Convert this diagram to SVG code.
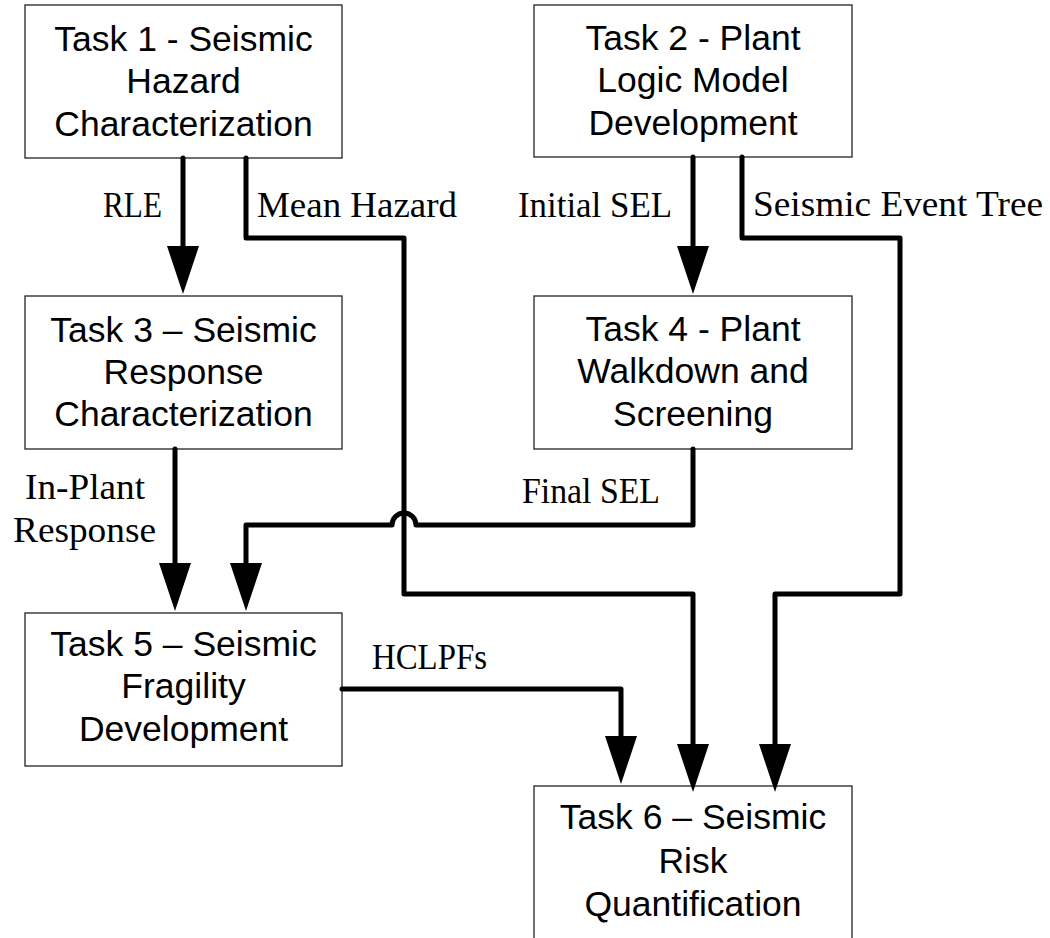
<svg xmlns="http://www.w3.org/2000/svg" width="1050" height="938" viewBox="0 0 1050 938">
<style>
.box{fill:#fff;stroke:#222;stroke-width:1.3}
.t{font-family:"Liberation Sans",Arial,sans-serif;font-size:35.5px;fill:#000;text-anchor:middle}
.lbl{font-family:"Liberation Serif","Times New Roman",serif;font-size:35px;fill:#000}
.c{fill:none;stroke:#000;stroke-width:5;stroke-linejoin:round;stroke-linecap:round}
</style>
<defs>
<marker id="ah" markerUnits="userSpaceOnUse" markerWidth="48" markerHeight="32" viewBox="0 0 48 32" refX="1" refY="16" orient="auto">
<path d="M0,0 L48,16 L0,32 Z" fill="#000"/>
</marker>
</defs>
<rect x="0" y="0" width="1050" height="938" fill="#fff"/>
<g id="task1">
<rect class="box" x="25" y="5" width="317" height="153"/>
<text class="t" x="183.5" y="51">Task 1 - Seismic</text>
<text class="t" x="183.5" y="93">Hazard</text>
<text class="t" x="183.5" y="136">Characterization</text>
</g>
<g id="task2">
<rect class="box" x="534" y="5" width="318" height="152"/>
<text class="t" x="693" y="50">Task 2 - Plant</text>
<text class="t" x="693" y="92">Logic Model</text>
<text class="t" x="693" y="135">Development</text>
</g>
<g id="task3">
<rect class="box" x="25" y="296" width="317" height="153"/>
<text class="t" x="183.5" y="342">Task 3 – Seismic</text>
<text class="t" x="183.5" y="384">Response</text>
<text class="t" x="183.5" y="426">Characterization</text>
</g>
<g id="task4">
<rect class="box" x="534" y="296" width="318" height="153"/>
<text class="t" x="693" y="341">Task 4 - Plant</text>
<text class="t" x="693" y="383">Walkdown and</text>
<text class="t" x="693" y="426">Screening</text>
</g>
<g id="task5">
<rect class="box" x="25" y="613" width="317" height="153"/>
<text class="t" x="183.5" y="656">Task 5 – Seismic</text>
<text class="t" x="183.5" y="698">Fragility</text>
<text class="t" x="183.5" y="741">Development</text>
</g>
<g id="task6">
<rect class="box" x="534" y="786" width="318" height="170"/>
<text class="t" x="693" y="829">Task 6 – Seismic</text>
<text class="t" x="693" y="873">Risk</text>
<text class="t" x="693" y="916">Quantification</text>
</g>
<g id="connectors">
<path class="c" d="M183,158 V247" marker-end="url(#ah)"/>
<path class="c" d="M693,157 V247" marker-end="url(#ah)"/>
<path class="c" d="M175,449 V564" marker-end="url(#ah)"/>
<path class="c" d="M693,449 V525 H416 A12 12 0 0 0 392,525 H246 V564" marker-end="url(#ah)"/>
<path class="c" d="M246,158 V238 H404 V594 H693 V745" marker-end="url(#ah)"/>
<path class="c" d="M742,157 V238 H900 V594 H775 V745" marker-end="url(#ah)"/>
<path class="c" d="M342,689 H621 V737" marker-end="url(#ah)"/>
</g>
<g id="labels">
<text class="lbl" x="103" y="217" textLength="59" lengthAdjust="spacingAndGlyphs">RLE</text>
<text class="lbl" x="257" y="217" textLength="200" lengthAdjust="spacingAndGlyphs">Mean Hazard</text>
<text class="lbl" x="518" y="217" textLength="154" lengthAdjust="spacingAndGlyphs">Initial SEL</text>
<text class="lbl" x="753" y="216" textLength="290" lengthAdjust="spacingAndGlyphs">Seismic Event Tree</text>
<text class="lbl" x="25" y="499" textLength="120" lengthAdjust="spacingAndGlyphs">In-Plant</text>
<text class="lbl" x="13" y="542" textLength="143" lengthAdjust="spacingAndGlyphs">Response</text>
<text class="lbl" x="522" y="503" textLength="138" lengthAdjust="spacingAndGlyphs">Final SEL</text>
<text class="lbl" x="372" y="669" textLength="115" lengthAdjust="spacingAndGlyphs">HCLPFs</text>
</g>
</svg>
